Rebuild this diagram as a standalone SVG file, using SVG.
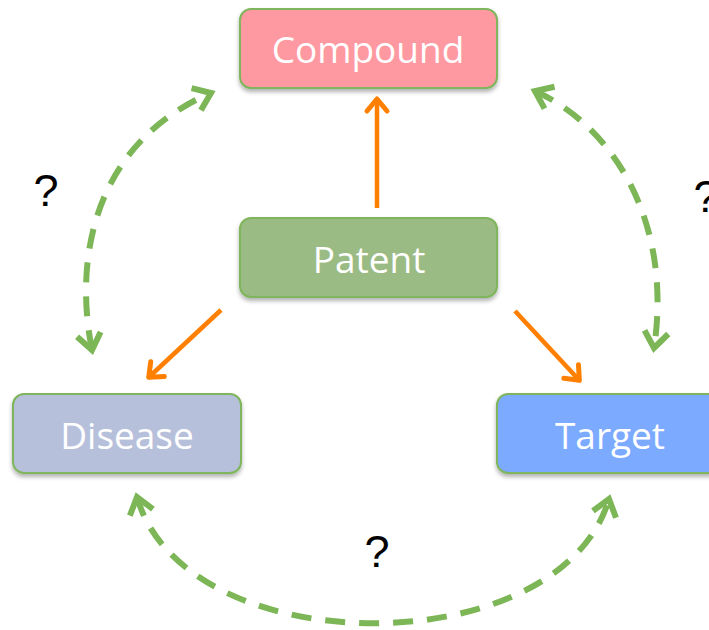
<svg xmlns="http://www.w3.org/2000/svg" width="709" height="630" viewBox="0 0 709 630">
<style>
.box{stroke:#7FB55B;stroke-width:2}
.lbl{font-family:"Open Sans","Noto Sans",sans-serif;font-size:37px;fill:#ffffff;text-anchor:middle}
.q{font-family:"Liberation Sans",Arial,sans-serif;font-size:45px;fill:#000000;text-anchor:middle}
.dash{fill:none;stroke:#7DB657;stroke-width:6;stroke-dasharray:20 14}
.solid{fill:none;stroke:#FF8000;stroke-width:4.5}
</style>
<defs>
<filter id="sh" x="-10%" y="-10%" width="120%" height="130%">
<feDropShadow dx="0" dy="3" stdDeviation="2" flood-color="#000" flood-opacity="0.3"/>
</filter>
<marker id="gh" markerUnits="userSpaceOnUse" viewBox="-22 -16 28 32" markerWidth="28" markerHeight="32" refX="0" refY="0" orient="auto-start-reverse" overflow="visible">
<path d="M -16 -12 L 0 0 L -16 12" fill="none" stroke="#7DB657" stroke-width="6" stroke-dasharray="none" stroke-linejoin="miter"/>
</marker>
<marker id="oh" markerUnits="userSpaceOnUse" viewBox="-20 -14 26 28" markerWidth="26" markerHeight="28" refX="0" refY="0" orient="auto" overflow="visible">
<path d="M -13 -10 L -1 0 L -13 10" fill="none" stroke="#FF8000" stroke-width="5" stroke-linejoin="round" stroke-linecap="round"/>
</marker>
</defs>
<g id="connectors">
<line class="solid" x1="377" y1="208" x2="377" y2="98" marker-end="url(#oh)"/>
<line class="solid" x1="221" y1="310" x2="148" y2="378" marker-end="url(#oh)"/>
<line class="solid" x1="515" y1="311" x2="580" y2="381" marker-end="url(#oh)"/>
<path class="dash" d="M 92 350 C 72 250, 100 140, 211 93" marker-start="url(#gh)" marker-end="url(#gh)"/>
<path class="dash" d="M 535 91 C 620 130, 672 230, 654 348" marker-start="url(#gh)" marker-end="url(#gh)"/>
<path class="dash" d="M 137 497 C 185 665, 560 665, 609 499" marker-start="url(#gh)" marker-end="url(#gh)"/>
</g>
<g id="compound">
<rect class="box" x="240" y="9" width="257" height="79" rx="11" fill="#FF99A1" filter="url(#sh)"/>
<text class="lbl" x="368" y="63">Compound</text>
</g>
<g id="patent">
<rect class="box" x="240" y="218" width="257" height="79" rx="11" fill="#9BBB84" filter="url(#sh)"/>
<text class="lbl" x="369" y="273">Patent</text>
</g>
<g id="disease">
<rect class="box" x="13" y="394" width="228" height="79" rx="11" fill="#B7C0DB" filter="url(#sh)"/>
<text class="lbl" x="127" y="449">Disease</text>
</g>
<g id="target">
<rect class="box" x="497" y="394" width="228" height="79" rx="11" fill="#7BAAFF" filter="url(#sh)"/>
<text class="lbl" x="610" y="449">Target</text>
</g>
<g id="labels">
<text class="q" x="46" y="206">?</text>
<text class="q" x="706" y="212">?</text>
<text class="q" x="377" y="567">?</text>
</g>
</svg>
